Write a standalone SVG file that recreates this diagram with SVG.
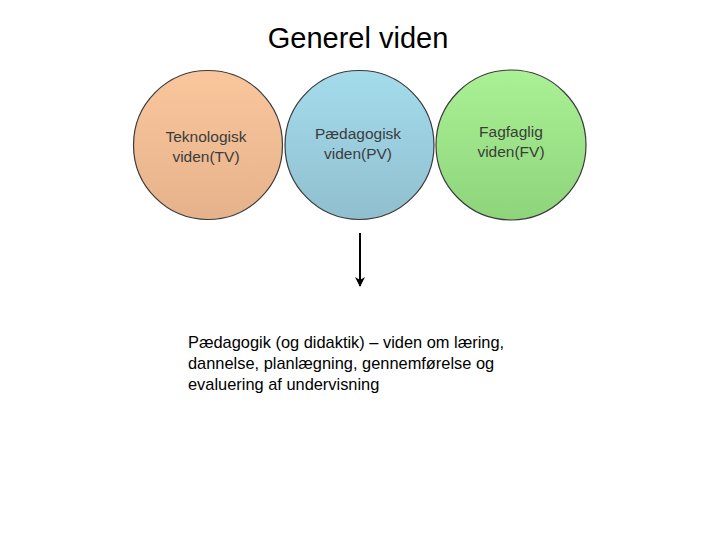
<svg xmlns="http://www.w3.org/2000/svg" width="720" height="540" viewBox="0 0 720 540">
<defs>
<linearGradient id="gOrange" x1="0" y1="0" x2="0" y2="1"><stop offset="0" stop-color="#fac69c"/><stop offset="1" stop-color="#e6b28b"/></linearGradient>
<linearGradient id="gBlue" x1="0" y1="0" x2="0" y2="1"><stop offset="0" stop-color="#a4dcec"/><stop offset="1" stop-color="#90bfcf"/></linearGradient>
<linearGradient id="gGreen" x1="0" y1="0" x2="0" y2="1"><stop offset="0" stop-color="#aaf094"/><stop offset="1" stop-color="#8ed47b"/></linearGradient>
<marker id="arrow" viewBox="0 0 10 10" refX="9" refY="5" markerWidth="5" markerHeight="5" orient="auto" markerUnits="strokeWidth"><path d="M0,0 L10,5 L0,10 L3,5 Z" fill="#000"/></marker>
<style>
.circ{stroke:#3a3a3a;stroke-width:1.2}
.lbl{font-family:"Liberation Sans",Arial,sans-serif;font-size:15.5px;fill:#3c3c3c;text-anchor:middle}
.title{font-family:"Liberation Sans",Arial,sans-serif;font-size:29px;fill:#000;text-anchor:middle}
.body{font-family:"Liberation Sans",Arial,sans-serif;font-size:16.4px;fill:#000}
</style>
</defs>
<rect width="720" height="540" fill="#fff"/>
<text class="title" x="358" y="48">Generel viden</text>
<g id="node-tv">
<circle class="circ" cx="208" cy="145" r="74.5" fill="url(#gOrange)"/>
<text class="lbl" x="206" y="142">Teknologisk</text>
<text class="lbl" x="206" y="162">viden(TV)</text>
</g>
<g id="node-pv">
<circle class="circ" cx="359.5" cy="145" r="74.5" fill="url(#gBlue)"/>
<text class="lbl" x="358" y="139">Pædagogisk</text>
<text class="lbl" x="358" y="159">viden(PV)</text>
</g>
<g id="node-fv">
<circle class="circ" cx="511" cy="145" r="75" fill="url(#gGreen)"/>
<text class="lbl" x="511" y="137">Fagfaglig</text>
<text class="lbl" x="511" y="157">viden(FV)</text>
</g>
<g id="connectors">
<line x1="360" y1="233" x2="360" y2="286" stroke="#000" stroke-width="2" marker-end="url(#arrow)"/>
</g>
<g id="node-text">
<text class="body" x="188" y="348">Pædagogik (og didaktik) – viden om læring,</text>
<text class="body" x="188" y="369">dannelse, planlægning, gennemførelse og</text>
<text class="body" x="188" y="390">evaluering af undervisning</text>
</g>
</svg>
